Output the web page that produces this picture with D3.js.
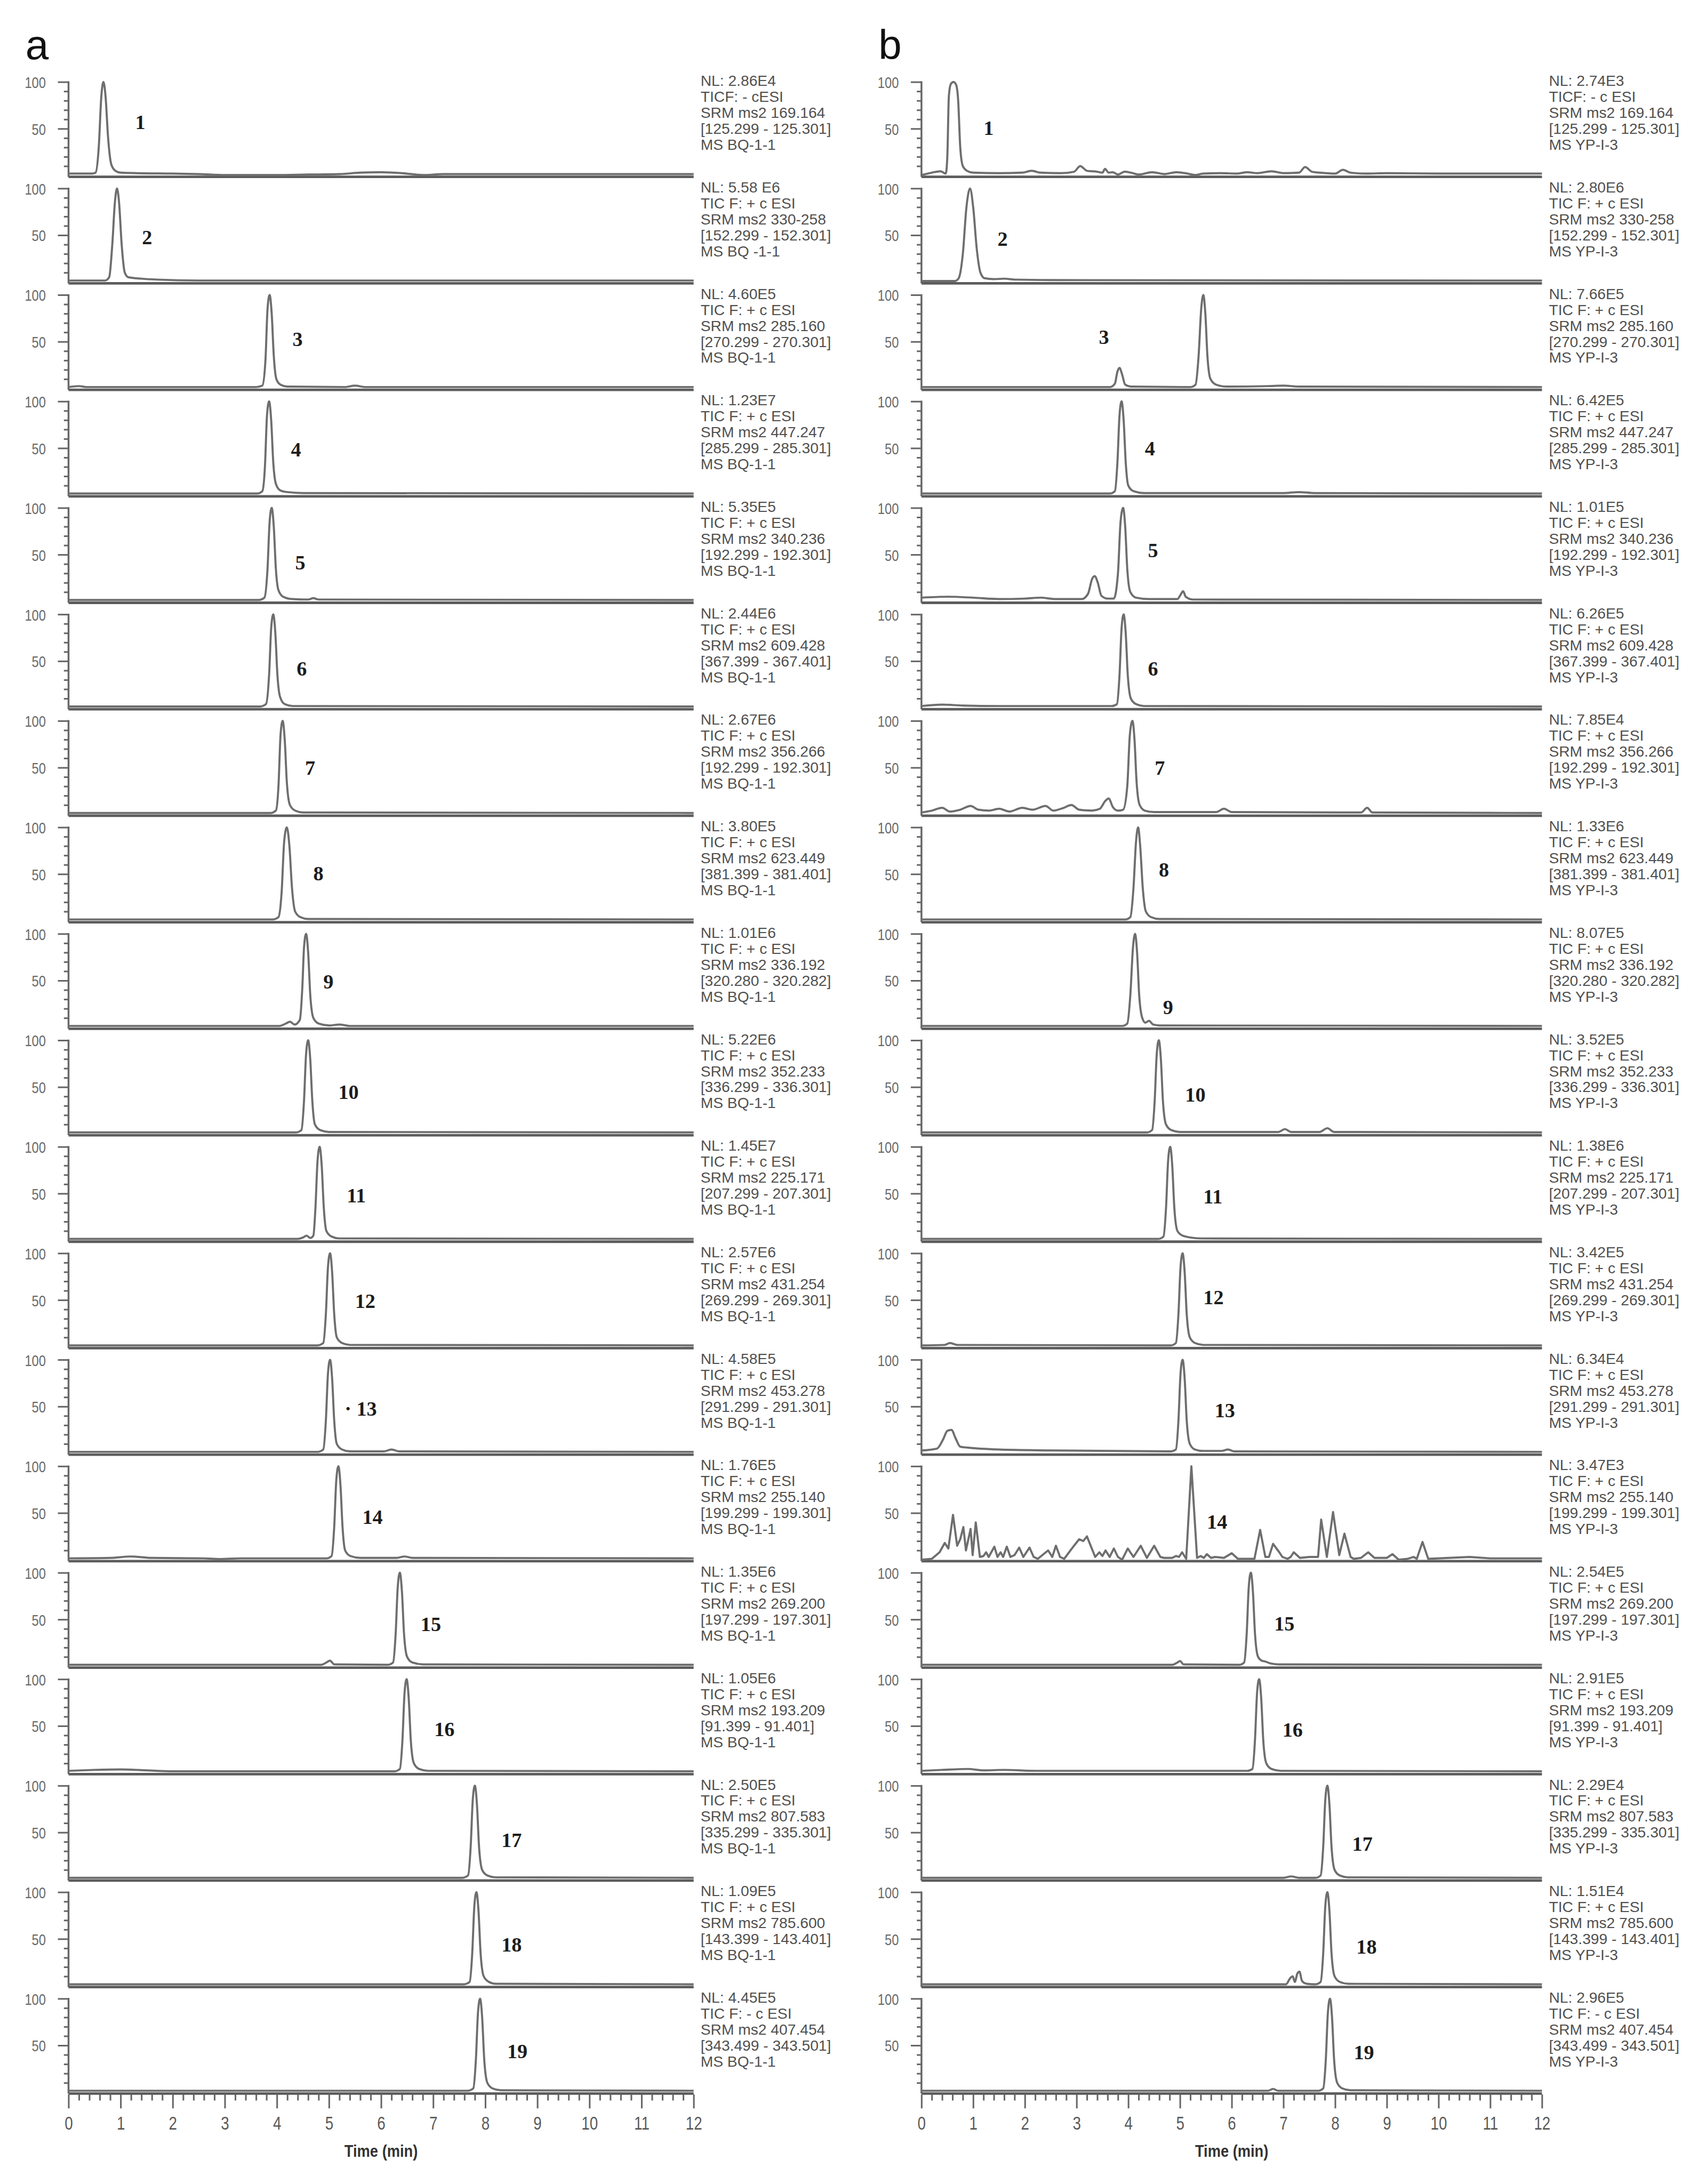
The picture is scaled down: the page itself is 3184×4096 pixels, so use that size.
<!DOCTYPE html>
<html><head><meta charset="utf-8">
<script src="https://cdn.jsdelivr.net/npm/d3@7"></script>
<style>html,body{margin:0;padding:0;background:#fff;}svg{display:block;}</style>
</head><body>
<svg id="chart" width="3184" height="4096"></svg>
<script>
// ---------- DATA: panel a traces [time (min), relative abundance %] ----------
const a01 = [[0,2],[0.45,2],[0.52,3],[0.58,30],[0.63,85],[0.67,100],[0.71,85],[0.76,40],[0.82,12],[0.9,5],[1.0,3],[1.3,2.5],[2.0,2],[2.5,1.5],[3.0,0.5],[4.0,0.5],[4.6,1],[5.2,1.5],[5.6,3],[6.0,3.5],[6.4,2.5],[6.8,0.5],[7.2,1.5],[12,1.5]];
const a02 = [[0,1.5],[0.7,1.5],[0.78,5],[0.84,40],[0.89,85],[0.93,100],[0.97,85],[1.02,40],[1.08,10],[1.15,5],[1.4,3.5],[1.7,2.5],[2.5,1.5],[12,1.5]];
const a03 = [[0,1.5],[0.2,2.5],[0.35,1.5],[3.6,1.5],[3.72,3],[3.78,30],[3.82,85],[3.86,100],[3.9,80],[3.94,35],[3.99,10],[4.07,4],[4.2,2],[5.3,1.5],[5.5,3],[5.7,1.5],[12,1.5]];
const a04 = [[0,1.5],[3.62,1.5],[3.72,4],[3.77,30],[3.81,85],[3.85,100],[3.89,80],[3.93,35],[3.98,12],[4.06,5],[4.2,3],[4.5,2],[12,1.5]];
const a05 = [[0,1.5],[3.65,1.5],[3.76,4],[3.82,35],[3.86,85],[3.9,100],[3.94,80],[3.98,35],[4.03,12],[4.12,5],[4.3,2.5],[4.6,2],[4.7,3.5],[4.8,2],[12,1.5]];
const a06 = [[0,1.5],[3.68,1.5],[3.79,4],[3.85,35],[3.89,85],[3.93,100],[3.97,80],[4.01,35],[4.06,12],[4.15,4],[4.3,2],[12,1.5]];
const a07 = [[0,1.5],[3.88,1.5],[3.98,4],[4.03,30],[4.07,85],[4.11,100],[4.15,80],[4.19,35],[4.25,10],[4.35,4],[4.5,2],[12,1.5]];
const a08 = [[0,1.5],[3.92,1.5],[4.03,4],[4.09,30],[4.14,85],[4.19,100],[4.24,80],[4.29,35],[4.35,10],[4.45,4],[4.6,2],[12,1.5]];
const a09 = [[0,1.5],[4.05,1.5],[4.17,4],[4.25,6],[4.34,3],[4.44,8],[4.49,45],[4.52,85],[4.56,100],[4.6,80],[4.64,35],[4.7,10],[4.8,4],[5.0,2],[5.2,3],[5.4,1.5],[12,1.5]];
const a10 = [[0,1.5],[4.36,1.5],[4.47,4],[4.52,35],[4.56,85],[4.6,100],[4.64,80],[4.68,35],[4.73,10],[4.83,4],[5.0,2],[12,1.5]];
const a11 = [[0,1.5],[4.4,1.5],[4.5,3],[4.57,5],[4.64,2.5],[4.7,5],[4.74,35],[4.78,85],[4.82,100],[4.86,80],[4.9,35],[4.95,10],[5.05,4],[5.2,2],[12,1.5]];
const a12 = [[0,1.5],[4.78,1.5],[4.89,4],[4.94,35],[4.98,85],[5.02,100],[5.06,80],[5.1,35],[5.15,10],[5.25,4],[5.4,2],[12,1.5]];
const a13 = [[0,1.5],[4.78,1.5],[4.89,4],[4.94,35],[4.98,85],[5.02,100],[5.06,80],[5.1,35],[5.15,10],[5.25,4],[5.4,2],[6.05,2],[6.2,4],[6.35,2],[12,1.5]];
const a14 = [[0,1.5],[0.8,2],[1.2,3.5],[1.6,2],[2.6,1.5],[2.9,0.8],[3.3,1.5],[4.95,1.5],[5.05,4],[5.1,35],[5.14,85],[5.18,100],[5.22,80],[5.26,35],[5.31,10],[5.41,4],[5.6,2],[6.3,2],[6.45,3.5],[6.6,2],[12,1.5]];
const a15 = [[0,1.5],[4.85,1.5],[4.95,4],[5.02,6],[5.1,2],[6.12,1.5],[6.23,4],[6.28,35],[6.32,85],[6.36,100],[6.4,80],[6.44,35],[6.5,10],[6.6,4],[6.8,2],[12,1.5]];
const a16 = [[0,2],[0.5,3],[1.0,3.5],[1.5,2.5],[2.0,1.5],[6.25,1.5],[6.36,4],[6.41,35],[6.45,85],[6.49,100],[6.53,80],[6.57,35],[6.63,10],[6.73,4],[6.9,2],[12,1.5]];
const a17 = [[0,1.5],[7.56,1.5],[7.67,4],[7.72,35],[7.76,85],[7.8,100],[7.84,80],[7.88,35],[7.94,10],[8.04,4],[8.2,2],[12,1.5]];
const a18 = [[0,1.5],[7.59,1.5],[7.7,4],[7.75,35],[7.79,85],[7.83,100],[7.87,80],[7.91,35],[7.97,10],[8.07,4],[8.2,2],[12,1.5]];
const a19 = [[0,1.5],[7.66,1.5],[7.77,4],[7.82,35],[7.86,85],[7.9,100],[7.94,80],[7.98,35],[8.04,10],[8.14,4],[8.3,2],[12,1.5]];

// ---------- DATA: panel b traces ----------
const b01 = [[0,0.5],[0.2,3],[0.37,4.5],[0.47,2],[0.5,20],[0.53,85],[0.57,98],[0.62,100],[0.67,97],[0.71,80],[0.75,30],[0.8,10],[0.88,5],[1.0,3],[1.5,2.5],[1.95,3],[2.13,5],[2.3,3],[2.7,2.5],[2.95,4],[3.07,10],[3.2,5],[3.4,4],[3.5,3],[3.55,7],[3.62,3],[3.7,3.5],[3.8,1],[3.93,4],[4.05,3],[4.2,1],[4.46,3.5],[4.7,1.5],[4.93,3.5],[5.15,2],[5.29,0.5],[5.45,2],[5.8,2.5],[6.1,2],[6.3,3.5],[6.5,2.5],[6.77,4.5],[7.0,2.5],[7.3,3],[7.42,9],[7.55,4],[7.7,3],[8.0,2],[8.15,6],[8.3,3],[8.6,2],[9.0,2.5],[10,2],[12,2]];
const b02 = [[0,1],[0.65,1],[0.72,4],[0.8,30],[0.87,80],[0.94,100],[1.0,80],[1.07,35],[1.14,10],[1.22,4],[1.4,3],[1.6,3.5],[1.8,2.5],[2.5,2],[12,1.5]];
const b03 = [[0,1.5],[3.65,1.5],[3.74,5],[3.79,18],[3.83,22],[3.88,15],[3.94,4],[4.05,2],[5.2,1.5],[5.3,4],[5.36,35],[5.41,85],[5.45,100],[5.49,80],[5.53,35],[5.59,10],[5.7,4],[5.9,2],[6.7,2.5],[7.0,3],[7.3,2],[12,1.5]];
const b04 = [[0,1.5],[3.64,1.5],[3.74,4],[3.79,35],[3.83,85],[3.87,100],[3.91,80],[3.95,35],[4.0,10],[4.1,4],[4.3,2],[7.0,2],[7.3,3],[7.6,2],[12,1.5]];
const b05 = [[0,4],[0.5,5],[1.0,4],[1.5,2.5],[2.0,3],[2.3,4],[2.6,2.5],[3.1,2.5],[3.22,8],[3.3,24],[3.35,27],[3.41,20],[3.48,6],[3.6,3],[3.72,3],[3.8,30],[3.85,85],[3.9,100],[3.94,80],[3.98,35],[4.04,10],[4.15,4],[4.4,2.5],[4.95,2.5],[5.02,8],[5.06,11],[5.11,5],[5.25,2],[12,1.5]];
const b06 = [[0,2],[0.4,3.5],[0.8,2.5],[1.5,2],[3.68,2],[3.78,4],[3.83,35],[3.87,85],[3.91,100],[3.95,80],[3.99,35],[4.05,10],[4.15,4],[4.3,2],[12,1.5]];
const b07 = [[0,2],[0.2,4],[0.4,7],[0.55,3],[0.75,5],[0.95,9],[1.1,5],[1.3,4],[1.5,6],[1.7,3],[1.95,7],[2.15,5],[2.4,9],[2.55,4],[2.75,7],[2.9,10],[3.05,5],[3.3,4],[3.45,6],[3.55,14],[3.62,17],[3.7,8],[3.8,4],[3.9,5],[3.98,30],[4.03,85],[4.08,100],[4.12,80],[4.16,35],[4.22,10],[4.32,4],[4.5,2.5],[5.7,2.5],[5.85,6],[6.0,2.5],[8.5,2],[8.62,7],[8.72,2],[12,1.5]];
const b08 = [[0,1.5],[3.94,1.5],[4.04,4],[4.1,35],[4.15,85],[4.19,100],[4.23,80],[4.28,35],[4.34,10],[4.44,4],[4.6,2],[12,1.5]];
const b09 = [[0,1.5],[3.88,1.5],[3.98,4],[4.04,35],[4.09,85],[4.13,100],[4.17,80],[4.21,35],[4.27,10],[4.33,5],[4.4,7],[4.48,3],[4.6,2],[12,1.5]];
const b10 = [[0,1.5],[4.36,1.5],[4.46,4],[4.51,35],[4.55,85],[4.59,100],[4.63,80],[4.67,35],[4.73,10],[4.83,4],[5.0,2],[6.9,2],[7.03,5],[7.15,2],[7.7,2],[7.85,6],[7.98,2],[12,1.5]];
const b11 = [[0,1.5],[4.58,1.5],[4.68,4],[4.73,35],[4.77,85],[4.81,100],[4.85,80],[4.89,35],[4.95,10],[5.05,5],[5.2,3],[5.4,2],[12,1.5]];
const b12 = [[0,1.5],[0.45,2],[0.55,4],[0.7,2],[4.82,1.5],[4.92,4],[4.97,35],[5.01,85],[5.05,100],[5.09,80],[5.13,35],[5.19,10],[5.29,4],[5.45,2],[12,1.5]];
const b13 = [[0,3],[0.3,5],[0.42,15],[0.5,24],[0.58,25],[0.66,16],[0.75,7],[0.9,6],[1.5,4],[2.5,3],[4.82,2],[4.92,4],[4.97,35],[5.01,85],[5.05,100],[5.09,80],[5.13,35],[5.19,10],[5.29,4],[5.45,2.5],[5.8,2.5],[5.93,4],[6.05,2],[12,1.5]];
const b14 = [[0,0],[0.2,1],[0.35,8],[0.45,18],[0.52,12],[0.61,48],[0.69,15],[0.75,22],[0.81,35],[0.86,10],[0.95,33],[0.99,5],[1.05,40],[1.13,3],[1.2,4],[1.25,8],[1.3,3],[1.41,14],[1.47,3],[1.53,8],[1.58,3],[1.65,14],[1.72,3],[1.8,5],[1.89,13],[1.97,3],[2.09,13],[2.17,3],[2.25,1],[2.45,10],[2.53,3],[2.6,15],[2.68,3],[2.76,1],[2.95,15],[3.05,22],[3.13,20],[3.2,25],[3.28,14],[3.36,3],[3.44,8],[3.5,4],[3.56,10],[3.64,3],[3.72,12],[3.8,3],[3.88,0],[3.99,12],[4.1,3],[4.24,15],[4.36,2],[4.5,15],[4.62,3],[4.69,2],[4.85,2],[4.92,4],[4.98,3],[5.04,8],[5.12,1],[5.22,100],[5.33,2],[5.4,4],[5.46,2],[5.52,6],[5.6,2],[5.68,3],[5.85,2],[6.0,7],[6.12,1],[6.44,1],[6.55,32],[6.65,3],[6.72,3],[6.8,17],[6.92,8],[6.98,3],[7.08,1],[7.14,3],[7.2,8],[7.32,2],[7.5,3],[7.67,3],[7.73,43],[7.84,3],[7.96,51],[8.08,5],[8.18,28],[8.3,3],[8.36,1],[8.5,2],[8.64,8],[8.76,2],[9.0,2],[9.11,6],[9.23,0],[9.4,1],[9.52,3],[9.58,1],[9.69,19],[9.8,1],[10.2,2],[10.6,3],[11.0,1.5],[12,1.5]];
const b15 = [[0,1.5],[4.85,1.5],[4.95,4],[5.0,5.5],[5.07,2],[6.14,1.5],[6.24,4],[6.29,35],[6.33,85],[6.37,100],[6.41,80],[6.45,35],[6.51,10],[6.58,6],[6.65,5],[6.75,3],[6.9,2],[12,1.5]];
const b16 = [[0,2],[0.4,3],[0.9,4],[1.2,2.5],[1.6,3],[2.2,2],[6.3,2],[6.4,4],[6.45,35],[6.49,85],[6.53,100],[6.57,80],[6.61,35],[6.67,10],[6.77,4],[6.95,2],[12,1.5]];
const b17 = [[0,1.5],[7.0,1.5],[7.15,3],[7.3,1.5],[7.62,1.5],[7.72,4],[7.77,35],[7.81,85],[7.85,100],[7.89,80],[7.93,35],[7.99,10],[8.09,4],[8.25,2],[12,1.5]];
const b18 = [[0,1.5],[7.05,1.5],[7.13,8],[7.18,10],[7.22,4],[7.27,13],[7.31,15],[7.36,5],[7.45,2],[7.62,1.5],[7.72,4],[7.77,35],[7.81,85],[7.85,100],[7.89,80],[7.93,35],[7.99,10],[8.09,4],[8.25,2],[12,1.5]];
const b19 = [[0,1.5],[6.7,1.5],[6.8,3.5],[6.9,1.5],[7.67,1.5],[7.77,4],[7.82,35],[7.86,85],[7.9,100],[7.94,80],[7.98,35],[8.04,10],[8.14,4],[8.3,2],[12,1.5]];

// ---------- DATA: peak labels (text, time, abundance) ----------
const peakTextA = ["1","2","3","4","5","6","7","8","9","10","11","12","· 13","14","15","16","17","18","19"];
const peakTimeA = [1.28,1.41,4.30,4.27,4.35,4.38,4.54,4.70,4.89,5.18,5.34,5.50,5.30,5.64,6.76,7.02,8.31,8.31,8.42];
const peakLevelA = [57,48,53,49,42,42,50,51,49,45,48,49,48,46,45,47,42,44,44];
const peakTextB = ["1","2","3","4","5","6","7","8","9","10","11","12","13","14","15","16","17","18","19"];
const peakTimeB = [1.20,1.47,3.43,4.32,4.38,4.38,4.51,4.59,4.67,5.10,5.45,5.45,5.67,5.52,6.82,6.98,8.33,8.41,8.36];
const peakLevelB = [51,46,55,50,55,42,50,55,22,42,47,53,46,41,46,46,38,42,43];

// ---------- DATA: trace header texts ----------
const nlA = ["NL: 2.86E4","NL: 5.58 E6","NL: 4.60E5","NL: 1.23E7","NL: 5.35E5","NL: 2.44E6","NL: 2.67E6","NL: 3.80E5","NL: 1.01E6","NL: 5.22E6","NL: 1.45E7","NL: 2.57E6","NL: 4.58E5","NL: 1.76E5","NL: 1.35E6","NL: 1.05E6","NL: 2.50E5","NL: 1.09E5","NL: 4.45E5"];
const nlB = ["NL: 2.74E3","NL: 2.80E6","NL: 7.66E5","NL: 6.42E5","NL: 1.01E5","NL: 6.26E5","NL: 7.85E4","NL: 1.33E6","NL: 8.07E5","NL: 3.52E5","NL: 1.38E6","NL: 3.42E5","NL: 6.34E4","NL: 3.47E3","NL: 2.54E5","NL: 2.91E5","NL: 2.29E4","NL: 1.51E4","NL: 2.96E5"];
const ticA = ["TICF: - cESI","TIC F: + c ESI","TIC F: + c ESI","TIC F: + c ESI","TIC F: + c ESI","TIC F: + c ESI","TIC F: + c ESI","TIC F: + c ESI","TIC F: + c ESI","TIC F: + c ESI","TIC F: + c ESI","TIC F: + c ESI","TIC F: + c ESI","TIC F: + c ESI","TIC F: + c ESI","TIC F: + c ESI","TIC F: + c ESI","TIC F: + c ESI","TIC F: - c ESI"];
const ticB = ["TICF: - c ESI","TIC F: + c ESI","TIC F: + c ESI","TIC F: + c ESI","TIC F: + c ESI","TIC F: + c ESI","TIC F: + c ESI","TIC F: + c ESI","TIC F: + c ESI","TIC F: + c ESI","TIC F: + c ESI","TIC F: + c ESI","TIC F: + c ESI","TIC F: + c ESI","TIC F: + c ESI","TIC F: + c ESI","TIC F: + c ESI","TIC F: + c ESI","TIC F: - c ESI"];
const srmList = ["SRM ms2 169.164","SRM ms2 330-258","SRM ms2 285.160","SRM ms2 447.247","SRM ms2 340.236","SRM ms2 609.428","SRM ms2 356.266","SRM ms2 623.449","SRM ms2 336.192","SRM ms2 352.233","SRM ms2 225.171","SRM ms2 431.254","SRM ms2 453.278","SRM ms2 255.140","SRM ms2 269.200","SRM ms2 193.209","SRM ms2 807.583","SRM ms2 785.600","SRM ms2 407.454"];
const rangeList = ["[125.299 - 125.301]","[152.299 - 152.301]","[270.299 - 270.301]","[285.299 - 285.301]","[192.299 - 192.301]","[367.399 - 367.401]","[192.299 - 192.301]","[381.399 - 381.401]","[320.280 - 320.282]","[336.299 - 336.301]","[207.299 - 207.301]","[269.299 - 269.301]","[291.299 - 291.301]","[199.299 - 199.301]","[197.299 - 197.301]","[91.399 - 91.401]","[335.299 - 335.301]","[143.399 - 143.401]","[343.499 - 343.501]"];
const msA = ["MS BQ-1-1","MS BQ -1-1","MS BQ-1-1","MS BQ-1-1","MS BQ-1-1","MS BQ-1-1","MS BQ-1-1","MS BQ-1-1","MS BQ-1-1","MS BQ-1-1","MS BQ-1-1","MS BQ-1-1","MS BQ-1-1","MS BQ-1-1","MS BQ-1-1","MS BQ-1-1","MS BQ-1-1","MS BQ-1-1","MS BQ-1-1"];
const msB = ["MS YP-I-3","MS YP-I-3","MS YP-I-3","MS YP-I-3","MS YP-I-3","MS YP-I-3","MS YP-I-3","MS YP-I-3","MS YP-I-3","MS YP-I-3","MS YP-I-3","MS YP-I-3","MS YP-I-3","MS YP-I-3","MS YP-I-3","MS YP-I-3","MS YP-I-3","MS YP-I-3","MS YP-I-3"];

// ---------- DATA: axes ----------
const timeTicks = [0,1,2,3,4,5,6,7,8,9,10,11,12];
const timeTickLabels = ["0","1","2","3","4","5","6","7","8","9","10","11","12"];
const timeMinorStep = 0.2;
const abundanceMajor = [50,100];
const abundanceMajorLabels = ["50","100"];
const abundanceMinor = [10,20,30,40,60,70,80,90];
const xTitle = "Time (min)";

const tracesA = [a01,a02,a03,a04,a05,a06,a07,a08,a09,a10,a11,a12,a13,a14,a15,a16,a17,a18,a19];
const tracesB = [b01,b02,b03,b04,b05,b06,b07,b08,b09,b10,b11,b12,b13,b14,b15,b16,b17,b18,b19];

// ---------- DRAWING ----------
const S = 3184 / 3667;
const SANS = "'Liberation Sans', Arial, Helvetica, sans-serif";
const SERIF = "'Liberation Serif', 'Times New Roman', serif";
const svg = d3.select("#chart");
svg.append("rect").attr("width", 3184).attr("height", 4096).attr("fill", "#fff");
const root = svg.append("g").attr("transform", `scale(${S})`);

const ROW0 = 177, PITCH = 230, H = 202, AX = 205;

function condense(sel, f) {
  sel.each(function () {
    const w = this.getComputedTextLength();
    d3.select(this).attr("textLength", w * f).attr("lengthAdjust", "spacingAndGlyphs");
  });
}

const panels = [
  { letter: "a", lx: 55, x0: 148, x1: 1498, tx: 1513, traces: tracesA, pText: peakTextA, pTime: peakTimeA, pLevel: peakLevelA, info: [nlA, ticA, srmList, rangeList, msA], linear: [] },
  { letter: "b", lx: 1897, x0: 1990, x1: 3330, tx: 3345, traces: tracesB, pText: peakTextB, pTime: peakTimeB, pLevel: peakLevelB, info: [nlB, ticB, srmList, rangeList, msB], linear: [13] }
];

panels.forEach(p => {
  const x = d3.scaleLinear().domain([0, 12]).range([p.x0, p.x1]);
  root.append("text").attr("x", p.lx).attr("y", 128).text(p.letter)
    .attr("font-family", SANS).attr("font-size", 90).attr("fill", "#111");

  p.traces.forEach((tr, i) => {
    const T = ROW0 + i * PITCH;
    const y = d3.scaleLinear().domain([0, 100]).range([T + H, T]);
    const g = root.append("g");

    // baseline (x axis line)
    g.append("line").attr("x1", x(0)).attr("x2", x(12)).attr("y1", T + AX).attr("y2", T + AX)
      .attr("stroke", "#5c5c5c").attr("stroke-width", 5.5);

    // y axis minor ticks
    const gMin = g.append("g").attr("transform", `translate(${x(0)},0)`)
      .call(d3.axisLeft(y).tickValues(abundanceMinor).tickSize(10).tickFormat(""));
    gMin.select(".domain").remove();
    gMin.selectAll("line").attr("stroke", "#666").attr("stroke-width", 3.5);

    // y axis major ticks
    const gMaj = g.append("g").attr("transform", `translate(${x(0)},0)`)
      .call(d3.axisLeft(y).tickValues(abundanceMajor).tickSize(23).tickPadding(26)
        .tickFormat((d, k) => abundanceMajorLabels[k]));
    gMaj.select(".domain").remove();
    gMaj.selectAll("line").attr("stroke", "#666").attr("stroke-width", 3.5);
    gMaj.selectAll("text").attr("font-family", SANS).attr("font-size", 35).attr("fill", "#6a6a6a").attr("dy", "0.36em");
    condense(gMaj.selectAll("text"), 0.78);

    // y axis line
    g.append("line").attr("x1", x(0)).attr("x2", x(0)).attr("y1", T - 1.5).attr("y2", T + AX)
      .attr("stroke", "#666").attr("stroke-width", 4);

    // trace
    const curve = p.linear.includes(i) ? d3.curveLinear : d3.curveMonotoneX;
    g.append("path").datum(tr)
      .attr("d", d3.line().x(d => x(d[0])).y(d => y(d[1])).curve(curve))
      .attr("fill", "none").attr("stroke", "#6e6e6e").attr("stroke-width", 4.5)
      .attr("stroke-linejoin", "round");

    // peak number
    g.append("text").attr("x", x(p.pTime[i])).attr("y", y(p.pLevel[i]))
      .attr("dy", "0.35em").text(p.pText[i])
      .attr("font-family", SERIF).attr("font-weight", "bold").attr("font-size", 44).attr("fill", "#1c1c1c");

    // header text block
    p.info.forEach((arr, j) => {
      g.append("text").attr("x", p.tx).attr("y", T - 3 + j * 34.5).attr("dy", "0.36em")
        .text(arr[i]).attr("font-family", SANS).attr("font-size", 32.5).attr("fill", "#505050");
    });

    // bottom time axis
    if (i === p.traces.length - 1) {
      const minorVals = d3.range(0, 12 + 1e-6, timeMinorStep).filter(v => Math.abs(v - Math.round(v)) > 1e-6);
      const gxm = g.append("g").attr("transform", `translate(0,${T + AX + 2})`)
        .call(d3.axisBottom(x).tickValues(minorVals).tickSize(13).tickFormat(""));
      gxm.select(".domain").remove();
      gxm.selectAll("line").attr("stroke", "#666").attr("stroke-width", 3.5);
      const gx = g.append("g").attr("transform", `translate(0,${T + AX + 2})`)
        .call(d3.axisBottom(x).tickValues(timeTicks).tickSize(30).tickFormat((d, k) => timeTickLabels[k]));
      gx.select(".domain").remove();
      gx.selectAll("line").attr("stroke", "#666").attr("stroke-width", 3.5);
      gx.selectAll("text").attr("y", 61).attr("dy", "0.36em")
        .attr("font-family", SANS).attr("font-size", 40).attr("fill", "#5a5a5a");
      condense(gx.selectAll("text"), 0.8);
      const tt = g.append("text").attr("x", x(6)).attr("y", T + AX + 123).attr("dy", "0.36em")
        .attr("text-anchor", "middle").text(xTitle)
        .attr("font-family", SANS).attr("font-weight", "bold").attr("font-size", 37).attr("fill", "#333");
      condense(tt, 0.85);
    }
  });
});
</script>
</body></html>
